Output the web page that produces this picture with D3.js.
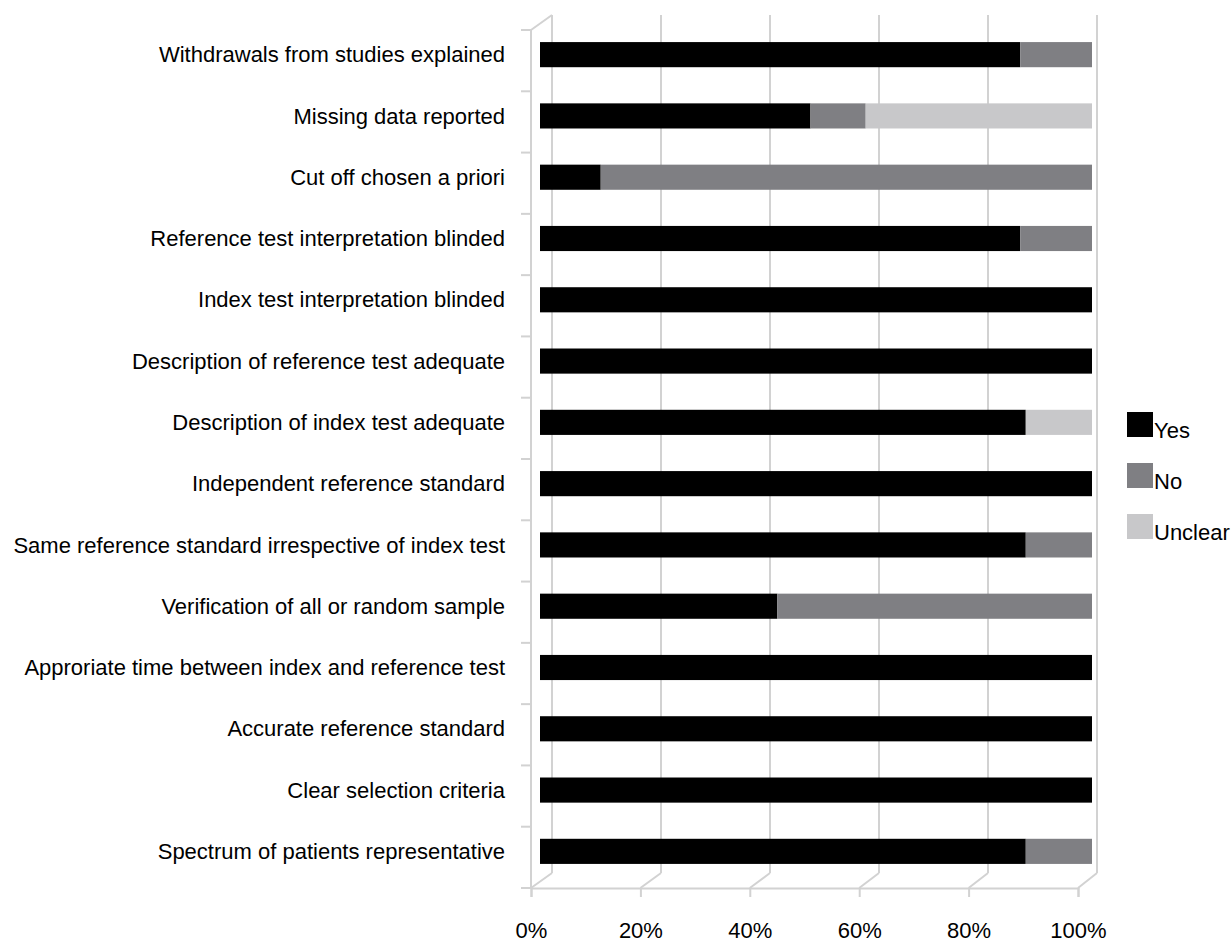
<!DOCTYPE html>
<html>
<head>
<meta charset="utf-8">
<script src="https://cdn.jsdelivr.net/npm/d3@7"></script>
<style>
  html, body { margin: 0; padding: 0; background: #fff; }
  svg { display: block; }
  text { font-family: "Liberation Sans", Arial, sans-serif; fill: #000; }
</style>
</head>
<body>
<svg id="chart" width="1231" height="944"></svg>
<script>
// Quality assessment items, top to bottom
const categories = [
  "Withdrawals from studies explained",
  "Missing data reported",
  "Cut off chosen a priori",
  "Reference test interpretation blinded",
  "Index test interpretation blinded",
  "Description of reference test adequate",
  "Description of index test adequate",
  "Independent reference standard",
  "Same reference standard irrespective of index test",
  "Verification of all or random sample",
  "Approriate time between index and reference test",
  "Accurate reference standard",
  "Clear selection criteria",
  "Spectrum of patients representative"
];
const seriesNames = ["Yes", "No", "Unclear"];
const yesValues     = [87, 49, 11, 87, 100, 100, 88, 100, 88, 43, 100, 100, 100, 88];
const noValues      = [13, 10, 89, 13,   0,   0,  0,   0, 12, 57,   0,   0,   0, 12];
const unclearValues = [ 0, 41,  0,  0,   0,   0, 12,   0,  0,  0,   0,   0,   0,  0];
const tickValues = [0, 20, 40, 60, 80, 100];
const tickLabels = ["0%", "20%", "40%", "60%", "80%", "100%"];

const colors = { Yes: "#000000", No: "#7f7f83", Unclear: "#c8c8ca" };
const gridColor = "#d2d2d2";
const fontSize = 22;

const rows = categories.map((c, i) => ({
  category: c, Yes: yesValues[i], No: noValues[i], Unclear: unclearValues[i]
}));

const svg = d3.select("#chart");

// Pseudo-3D frame: front plane, back wall offset up and to the right
const depth = { dx: 21, dy: -15 };
const xFront = d3.scaleLinear().domain([0, 100]).range([531, 1078]);
const xBack  = d3.scaleLinear().domain([0, 100]).range([552, 1097]);
const xBar   = d3.scaleLinear().domain([0, 100]).range([540, 1092]);

const wallTop = 30, floorY = 888;
const yWall = d3.scaleBand().domain(categories).range([wallTop, floorY]);
const yBar = d3.scaleBand().domain(categories).range([wallTop - 6, floorY - 6])
  .paddingInner(0.59).paddingOuter(0.295);

const frame = svg.append("g")
  .attr("fill", "none").attr("stroke", gridColor).attr("stroke-width", 2);

// back wall gridlines
frame.selectAll("line.grid").data(tickValues).join("line")
  .attr("class", "grid")
  .attr("x1", d => xBack(d)).attr("x2", d => xBack(d))
  .attr("y1", wallTop + depth.dy).attr("y2", floorY + depth.dy);

// floor diagonals
frame.selectAll("line.floor").data(tickValues).join("line")
  .attr("class", "floor")
  .attr("x1", d => xBack(d)).attr("y1", floorY + depth.dy)
  .attr("x2", d => xFront(d)).attr("y2", floorY);

// side wall
frame.append("line")
  .attr("x1", xFront(0)).attr("x2", xFront(0))
  .attr("y1", wallTop).attr("y2", floorY);
frame.append("line")
  .attr("x1", xFront(0)).attr("y1", wallTop)
  .attr("x2", xBack(0)).attr("y2", wallTop + depth.dy);

// category ticks on side wall
const boundaries = categories.map(c => yWall(c)).concat([floorY]);
frame.selectAll("line.ytick").data(boundaries).join("line")
  .attr("class", "ytick")
  .attr("x1", xFront(0) - 10).attr("x2", xFront(0))
  .attr("y1", d => d).attr("y2", d => d);

// front x axis
const xAxis = d3.axisBottom(xFront)
  .tickValues(tickValues)
  .tickFormat((d, i) => tickLabels[i])
  .tickSize(9).tickPadding(25);
const axisG = svg.append("g")
  .attr("transform", `translate(0,${floorY})`)
  .call(xAxis);
axisG.select(".domain").attr("stroke", gridColor).attr("stroke-width", 2);
axisG.selectAll(".tick line").attr("stroke", gridColor).attr("stroke-width", 2);
axisG.selectAll(".tick text")
  .attr("font-family", "'Liberation Sans', Arial, sans-serif")
  .attr("font-size", fontSize).attr("fill", "#000");

// stacked bars
const stack = d3.stack().keys(seriesNames);
const stacked = stack(rows);
svg.append("g").selectAll("g").data(stacked).join("g")
  .attr("fill", s => colors[s.key])
  .selectAll("rect").data(s => s.filter(d => d[1] > d[0])).join("rect")
  .attr("x", d => xBar(d[0]))
  .attr("width", d => xBar(d[1]) - xBar(d[0]))
  .attr("y", d => yBar(d.data.category))
  .attr("height", yBar.bandwidth());

// category labels
svg.append("g").selectAll("text").data(categories).join("text")
  .attr("x", 505)
  .attr("y", d => yBar(d) + yBar.bandwidth() / 2)
  .attr("dy", "0.35em")
  .attr("text-anchor", "end")
  .attr("font-size", fontSize)
  .text(d => d);

// legend
const legend = svg.append("g").selectAll("g").data(seriesNames).join("g")
  .attr("transform", (d, i) => `translate(1127,${412 + i * 51})`);
legend.append("rect")
  .attr("width", 26).attr("height", 25)
  .attr("fill", d => colors[d]);
legend.append("text")
  .attr("x", 27).attr("y", 26)
  .attr("font-size", fontSize)
  .text(d => d);
</script>
</body>
</html>
